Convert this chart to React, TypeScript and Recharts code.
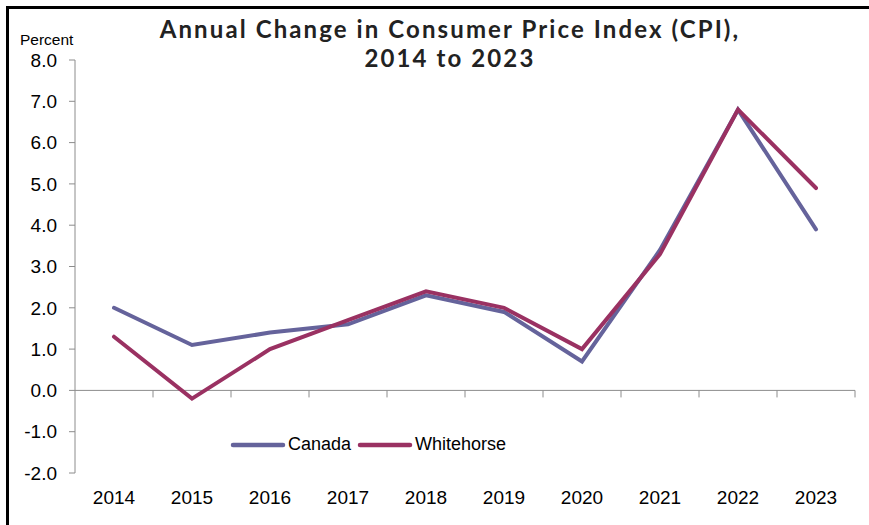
import { LineChart, Line, XAxis, YAxis, ReferenceLine } from 'recharts';

const years = ['2014', '2015', '2016', '2017', '2018', '2019', '2020', '2021', '2022', '2023'];
const canada = [2.0, 1.1, 1.4, 1.6, 2.3, 1.9, 0.7, 3.4, 6.8, 3.9];
const whitehorse = [1.3, -0.2, 1.0, 1.7, 2.4, 2.0, 1.0, 3.3, 6.8, 4.9];
const yTicks = [-2, -1, 0, 1, 2, 3, 4, 5, 6, 7, 8];
const titleLines = ['Annual Change in Consumer Price Index (CPI),', '2014 to 2023'];

const CANADA_COLOR = '#65639b';
const WHITEHORSE_COLOR = '#9a3162';
const AXIS_COLOR = '#8c8c8c';
const FONT = 'Liberation Sans, Arial, sans-serif';

// numeric x so category boundaries can carry the tick marks on the zero line
const data = years.map((y, i) => ({ pos: i + 0.5, year: y, canada: canada[i], whitehorse: whitehorse[i] }));
const labelTicks = years.map((_, i) => i + 0.5);
const boundaries = years.map((_, i) => i + 1);

const legendItems = [
    { name: 'Canada', color: CANADA_COLOR },
    { name: 'Whitehorse', color: WHITEHORSE_COLOR },
];

export default function App() {
    return (
        <div style={{ position: 'absolute', left: 0, top: 0, width: 869, height: 525, background: '#fff', overflow: 'hidden' }}>
            {/* frame */}
            <div style={{ position: 'absolute', left: 6, top: 6, width: 900, height: 600, borderTop: '3px solid #000', borderLeft: '3px solid #000' }} />
            {titleLines.map((t, i) => (
                <div key={t} style={{ position: 'absolute', left: 0, top: 15 + i * 29, width: 900, height: 28, textAlign: 'center', fontFamily: 'Lato, sans-serif', fontWeight: 700, fontSize: 24, letterSpacing: 2.1, lineHeight: '28px', color: '#222' }}>
                    {t}
                </div>
            ))}
            <div style={{ position: 'absolute', left: 20, top: 31, fontFamily: FONT, fontSize: 15.5, color: '#000' }}>
                Percent
            </div>
            <div style={{ position: 'absolute', left: 0, top: 0 }}>
                <LineChart width={869} height={525} data={data} margin={{ top: 60, right: 14, bottom: 0, left: 0 }}>
                    <XAxis
                        dataKey="pos"
                        type="number"
                        domain={[0, 10]}
                        ticks={labelTicks}
                        tickFormatter={(v: number) => years[Math.floor(v)]}
                        axisLine={false}
                        tickLine={false}
                        tickSize={0}
                        tickMargin={18}
                        fontSize={19}
                        tick={{ fill: '#000', fontSize: 19, fontFamily: FONT }}
                        interval={0}
                        height={52}
                    />
                    <YAxis
                        domain={[-2, 8]}
                        ticks={yTicks}
                        width={75}
                        tickFormatter={(v: number) => v.toFixed(1)}
                        axisLine={{ stroke: AXIS_COLOR, strokeWidth: 1 }}
                        tickLine={{ stroke: AXIS_COLOR }}
                        tickSize={6}
                        tickMargin={12}
                        fontSize={19}
                        tick={{ fill: '#000', fontSize: 19, fontFamily: FONT }}
                        interval={0}
                    />
                    <ReferenceLine y={0} stroke={AXIS_COLOR} strokeWidth={1} />
                    {boundaries.map((b) => (
                        <ReferenceLine
                            key={b}
                            segment={[{ x: b, y: 0 }, { x: b, y: -0.17 }]}
                            stroke={AXIS_COLOR}
                            strokeWidth={1}
                        />
                    ))}
                    <Line dataKey="canada" stroke={CANADA_COLOR} strokeWidth={4} dot={false} strokeLinecap="round" isAnimationActive={false} />
                    <Line dataKey="whitehorse" stroke={WHITEHORSE_COLOR} strokeWidth={4} dot={false} strokeLinecap="round" isAnimationActive={false} />
                </LineChart>
            </div>
            {/* legend */}
            <div style={{ position: 'absolute', left: 230, top: 434, display: 'flex', alignItems: 'center', fontFamily: FONT, fontSize: 18, color: '#000' }}>
                {legendItems.map((it) => (
                    <div key={it.name} style={{ display: 'flex', alignItems: 'center', marginRight: 6 }}>
                        <svg width={56} height={8} style={{ marginRight: 2 }}>
                            <line x1={3} y1={4} x2={53} y2={4} stroke={it.color} strokeWidth={4.5} strokeLinecap="round" />
                        </svg>
                        <span>{it.name}</span>
                    </div>
                ))}
            </div>
        </div>
    );
}
